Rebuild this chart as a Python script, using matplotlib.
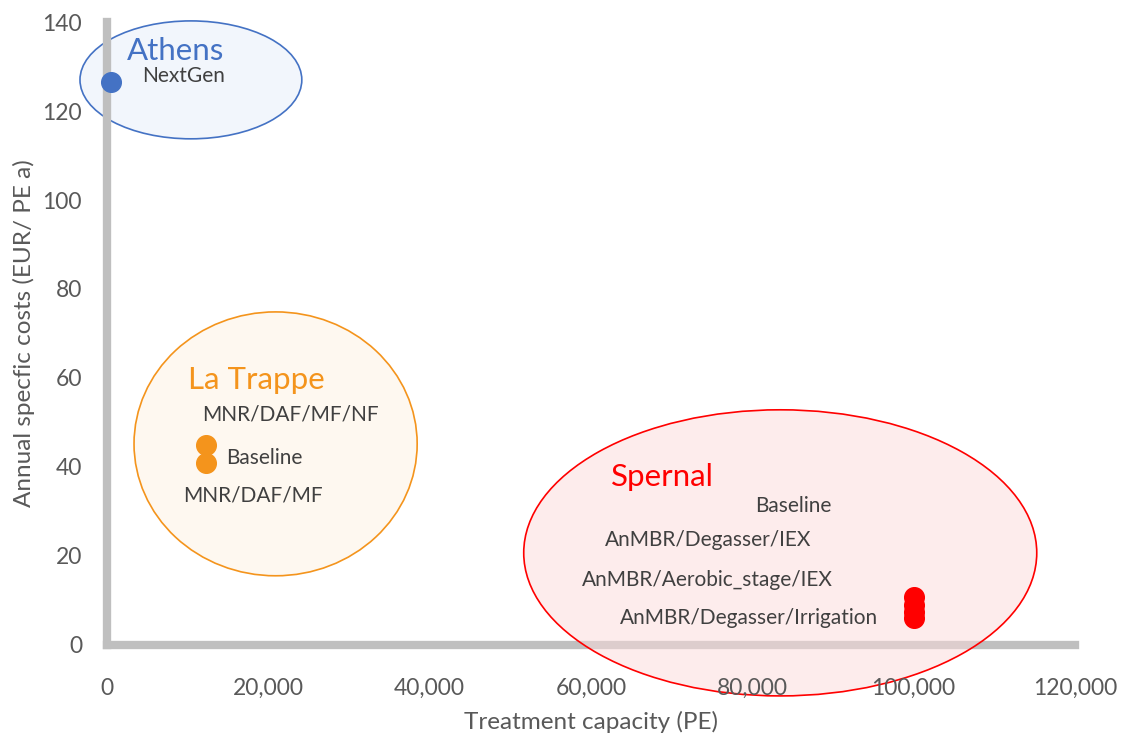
import matplotlib.pyplot as plt
from matplotlib.patches import Ellipse
from matplotlib.ticker import FuncFormatter

plt.rcParams['font.family'] = ['Lato', 'DejaVu Sans']

# Data: treatment capacity (PE) vs annual specific costs (EUR / PE a)
athens_x = [500]
athens_y = [126.5]
athens_labels = ["NextGen"]

trappe_x = [12300, 12300]
trappe_y = [45.0, 41.0]
trappe_labels = ["MNR/DAF/MF/NF", "Baseline", "MNR/DAF/MF"]

spernal_x = [100000, 100000, 100000, 100000]
spernal_y = [10.8, 9.0, 7.4, 6.0]
spernal_labels = ["Baseline", "AnMBR/Degasser/IEX", "AnMBR/Aerobic_stage/IEX",
                  "AnMBR/Degasser/Irrigation"]

x_ticks = [0, 20000, 40000, 60000, 80000, 100000, 120000]
y_ticks = [0, 20, 40, 60, 80, 100, 120, 140]

blue = "#4472c4"
orange = "#f4941c"
red = "#ff0000"
grey_txt = "#595959"
label_txt = "#404040"

fig = plt.figure(figsize=(11.24, 7.34), dpi=100)
ax = fig.add_axes([0.0952, 0.1213, 0.8612, 0.8487])
ax.set_xlim(0, 120000)
ax.set_ylim(0, 140)

# group bubbles
ax.add_patch(Ellipse((10400, 127), 27500, 26.5, facecolor="#f2f6fc",
                     edgecolor=blue, lw=1.2, zorder=1, clip_on=False))
ax.add_patch(Ellipse((20900, 45.2), 35100, 59.3, facecolor="#fef8f0",
                     edgecolor=orange, lw=1.2, zorder=1, clip_on=False))
ax.add_patch(Ellipse((83460, 20.7), 63600, 64.3, facecolor=(0.99, 0.86, 0.86, 0.5),
                     edgecolor=red, lw=1.2, zorder=3, clip_on=False))

# points
ax.scatter(athens_x, athens_y, s=200, color=blue, zorder=4, clip_on=False)
ax.scatter(trappe_x, trappe_y, s=200, color=orange, zorder=4, clip_on=False)
ax.scatter(spernal_x, spernal_y, s=200, color=red, zorder=4, clip_on=False)

# group names
ax.text(2480, 133.4, "Athens", color=blue, fontsize=22.5, va="center", zorder=5)
ax.text(10040, 59.6, "La Trappe", color=orange, fontsize=22.5, va="center", zorder=5)
ax.text(62450, 37.8, "Spernal", color=red, fontsize=22.5, va="center", zorder=5)

# scenario labels
kw = dict(color=label_txt, fontsize=15, va="center", zorder=5)
ax.text(4340, 127.9, athens_labels[0], **kw)
ax.text(11770, 51.9, trappe_labels[0], **kw)
ax.text(14750, 42.0, trappe_labels[1], **kw)
ax.text(9420, 33.7, trappe_labels[2], **kw)
ax.text(80300, 31.2, spernal_labels[0], **kw)
ax.text(61700, 23.6, spernal_labels[1], **kw)
ax.text(58860, 14.6, spernal_labels[2], **kw)
ax.text(63570, 6.1, spernal_labels[3], **kw)

# thick grey axes
for side in ["top", "right"]:
    ax.spines[side].set_visible(False)
for side in ["left", "bottom"]:
    ax.spines[side].set_color("#bfbfbf")
    ax.spines[side].set_linewidth(6)
    ax.spines[side].set_zorder(2)

ax.set_xticks(x_ticks)
ax.set_yticks(y_ticks)
ax.xaxis.set_major_formatter(FuncFormatter(lambda v, p: f"{int(v):,}"))
ax.tick_params(length=0, labelsize=16.5, labelcolor=grey_txt)
ax.tick_params(axis="x", pad=24)
ax.tick_params(axis="y", pad=18)
ax.xaxis.set_zorder(6)

ax.set_xlabel("Treatment capacity (PE)", fontsize=17.5, color=grey_txt, labelpad=8)
ax.set_ylabel("Annual specfic costs (EUR/ PE a)", fontsize=17.5, color=grey_txt, labelpad=5)

fig.savefig("out.png", dpi=100)
